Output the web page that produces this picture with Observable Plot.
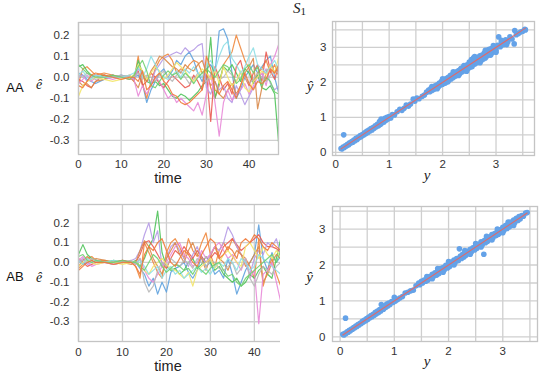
<!DOCTYPE html>
<html>
<head>
<meta charset="utf-8">
<script src="https://cdn.jsdelivr.net/npm/d3@7"></script>
<script src="https://cdn.jsdelivr.net/npm/@observablehq/plot@0.6"></script>
<style>
  body { margin: 0; background: white; }
  #wrap { position: relative; width: 554px; height: 374px; overflow: hidden; background: white; }
  .panel { position: absolute; }
  #overlay { position: absolute; left: 0; top: 0; pointer-events: none; }
</style>
</head>
<body>
<div id="wrap"></div>
<script>
// ---------- data ----------
const times = [0,1,2,3,4,6,8,10,12,13,14,15,16,17,18,19,20,21,22,23,24,25,26,27,28,29,30,31,32,33,34,35,36,37,38,39,40,41,42,43,44,45,46,47];
const seriesNames = ["blue","orange","green","red","purple","brown","pink","gray","yellow","cyan","green2","orange2"];
const seriesColors = ["#5fa2de","#f0883e","#4fc35a","#ea5a52","#b59ae6","#d98a4a","#e88ad8","#b8b8b8","#f3e56a","#8edfe6","#6fd070","#f07a3a"];

// residuals in hundredths (value / 100), one array per series
const aaResiduals = [
  [2,1,-1,-2,-3, -1,0,1,0, 0,1,-3,-12,-6,-2,2,4,0,3, 8,6,10,12,8,2,-2,4,6,2, 22,23,18,2,-10,-6,0,3,6,2, 5,8,10,0,-8],
  [-3,4,5,3,1, 2,1,0,1, -2,10,-3,-10,-2,4,8,10,11,8, 2,4,3,6,8,7,2,4,-5,-10, -4,6,9,12,20,14,8,4,-2,2, 4,8,2,6,0],
  [5,6,3,1,0, 1,0,0,0, -1,8,2,-2,-3,-2,-4,-3,-6,-9, -10,-8,-9,-11,-9,-7,-4,-2,19,-10, -2,5,3,6,2,-2,4,2,-3,1, -5,-6,-4,-8,-33],
  [-1,-2,-4,-5,-2, 1,0,0,-1, 0,3,-4,-2,2,0,-3,-5,-2,1, -1,-3,-5,-4,1,-2,-6,2,-21,5, 0,-6,-3,-8,5,8,0,-4,2,6, -2,12,3,-1,6],
  [0,1,-2,0,1, 0,1,0,0, -1,4,2,0,-3,3,6,9,10,11, 12,11,14,12,13,15,16,-5,-8,-2, -6,-4,-10,-12,-4,-8,-13,-9,-5,-2, 0,4,-3,-6,-4],
  [-2,-4,-3,-5,-2, -1,1,0,0, -2,-5,1,-2,3,6,10,9,7,5, 4,2,6,4,3,6,8,2,-4,-2, -8,-10,-6,-3,-8,-4,2,5,9,-15, -5,2,6,2,5],
  [-3,-1,1,-2,0, 0,-1,0,0, -1,-9,-4,-8,-4,0,-2,-6,-10,-8, -12,-10,-12,-14,-16,-12,-18,-8,2,-12, -28,-12,-6,-11,-8,-6,-3,-8,-4,0, 2,-4,6,10,16],
  [1,0,2,0,-1, 0,0,1,0, 0,2,-1,1,0,-2,1,3,0,-2, 1,3,0,-3,-1,2,0,-2,1,3, -1,0,3,1,-2,2,0,-3,-1,2, 0,-2,1,3,2],
  [-9,-4,-2,-1,0, -1,-2,-1,0, 1,6,3,-1,2,5,3,-1,1,4, 7,5,3,0,-2,1,4,2,-1,3, -3,5,0,-4,-2,3,-5,-7,-2,0, 3,1,6,2,10],
  [1,3,0,-1,1, 0,0,0,1, 2,5,0,4,10,6,2,0,-1,1, 3,0,4,2,5,2,0,6,8,3, 10,15,17,9,6,2,5,10,14,6, 4,2,5,8,3],
  [6,4,2,1,0, 0,1,0,-1, 1,5,8,3,-4,-5,-2,1,3,1, 2,-1,2,0,-3,0,2,4,2,0, 3,6,5,2,-3,-1,4,6,2,5, -4,0,-2,-7,-8],
  [-4,-5,-2,1,2, 1,0,-1,0, 0,-2,3,-6,-4,0,2,-2,-4,-8, -9,-12,-13,-12,-10,-8,-6,10,4,-6, -8,-4,-2,-6,-10,-4,2,-3,-6,-2, -3,-1,4,2,6]
];
const abResiduals = [
  [1,-1,0,1,0, 0,-1,0,0, 0,-3,-6,-12,-8,-16,-10,-15,-5,-3, -2,0,-5,-8,-4,3,-2,0,-6,-4, -8,2,-6,-16,-10,-4,0,4,19,2, -4,5,0,3,2],
  [-3,-1,2,3,1, 1,0,1,0, -2,-8,10,5,0,-5,-8,5,10,12, 8,2,12,6,3,10,15,4,-2,6, 10,6,12,8,4,2,-2,-8,12,-12, -4,2,-6,-12,-16],
  [4,9,4,2,1, 0,1,0,0, 1,-2,2,8,12,26,5,-2,-4,-3, -6,-4,0,2,-3,-1,3,0,-4,-2, -6,-8,-10,-8,-12,-10,-6,-8,-4,-2, -6,-8,2,12,14],
  [2,0,-2,-1,0, 0,0,1,0, 0,4,10,11,8,4,0,-3,2,6, 4,8,5,2,6,3,0,2,5,3, 8,10,12,9,6,8,10,12,14,10, 8,8,7,5,4],
  [0,2,-1,0,1, 0,0,0,1, 2,6,14,20,10,16,-2,2,8,10, 6,2,-2,4,8,2,0,4,8,6, 10,18,14,8,4,0,-6,2,6,4, 10,8,12,4,6],
  [-2,1,3,1,2, 1,0,0,-1, 0,6,11,8,2,-2,-6,2,6,10, 4,0,6,10,4,2,-4,3,8,2, 0,-4,2,6,4,-2,0,4,8,-10, -6,0,4,2,6],
  [1,3,0,-2,-1, 0,-1,0,0, -1,2,-4,-8,-10,-6,-2,0,4,8, 10,4,2,-2,0,6,2,4,8,10, 6,2,4,0,-4,2,-8,-4,-31,-6, -4,0,-10,-20,-38],
  [0,1,0,2,1, 0,0,0,1, -1,2,-10,-15,-12,-4,0,-2,2,0, -2,1,0,-3,2,0,-2,1,0,-3, -4,-2,0,-6,-3,2,-8,-12,-6,-2, -4,-6,-2,0,-3],
  [-2,0,1,0,-1, 0,0,-1,0, 0,-2,-4,-6,-2,0,2,-1,-3,-4, -6,-8,-5,-12,-4,-2,0,2,-3,0, 4,6,3,0,-2,8,10,6,2,8, 4,2,6,3,5],
  [1,-1,2,0,1, 0,1,0,0, 0,1,-2,-6,-4,-2,-8,-4,-2,-6, -4,-8,-6,-4,-2,-5,-3,-6,-2,0, -2,2,0,-4,2,0,-4,-2,4,2, 0,-2,-4,-6,-3],
  [3,4,1,0,1, 0,0,1,0, 0,-2,-4,0,4,2,-2,-5,-3,-1, -2,-4,-3,-6,-2,-4,-6,-3,-1,0, -4,-7,-6,-10,-12,-8,-6,-4,-2,0, 2,4,0,6,8],
  [-4,-2,0,1,0, 0,-1,0,0, -2,-6,4,8,6,10,12,6,0,-2, 2,6,4,0,-2,4,8,12,10,2, 4,8,6,2,10,12,10,14,12,8, 6,10,8,6,8]
];

// scatter: [y, yhat]
const aaScatter = [
  [0.10,0.11],[0.12,0.10],[0.14,0.15],[0.15,0.50],[0.16,0.14],[0.18,0.19],[0.20,0.18],[0.22,0.23],[0.24,0.21],[0.26,0.27],
  [0.28,0.26],[0.30,0.31],[0.32,0.29],[0.34,0.35],[0.36,0.33],[0.38,0.40],[0.40,0.37],[0.42,0.43],[0.44,0.42],[0.46,0.48],
  [0.48,0.45],[0.50,0.51],[0.52,0.49],[0.54,0.56],[0.56,0.53],[0.58,0.60],[0.60,0.57],[0.62,0.64],[0.64,0.61],[0.66,0.68],
  [0.68,0.64],[0.70,0.71],[0.72,0.69],[0.74,0.76],[0.76,0.73],[0.78,0.80],[0.80,0.76],[0.82,0.88],[0.84,0.80],[0.85,0.95],
  [0.86,0.84],[0.88,0.91],[0.90,0.86],[0.92,0.97],[0.94,0.92],[0.96,1.00],[0.98,0.95],
  [1.00,1.02],[1.03,0.98],[1.06,1.08],[1.10,1.07],[1.15,1.16],[1.20,1.23],[1.24,1.20],[1.28,1.26],[1.32,1.35],[1.36,1.32],
  [1.40,1.38],[1.45,1.52],[1.48,1.46],[1.52,1.55],[1.56,1.53],[1.62,1.60],[1.66,1.64],[1.70,1.72],
  [1.74,1.78],[1.76,1.73],[1.78,1.82],[1.80,1.77],[1.82,1.84],[1.84,1.80],[1.86,1.90],[1.88,1.85],[1.90,1.93],[1.92,1.87],
  [1.94,1.98],[1.96,1.92],[1.98,2.03],[2.00,1.95],[2.02,2.07],[2.04,2.00],[2.06,2.10],[2.08,2.02],[2.10,2.14],[2.12,2.07],
  [2.14,2.18],[2.16,2.10],[2.18,2.22],[2.20,2.14],[2.22,2.27],[2.24,2.18],[2.26,2.30],[2.28,2.22],[2.30,2.34],[2.32,2.25],
  [2.34,2.38],[2.36,2.30],[2.38,2.42],[2.40,2.33],[2.42,2.46],[2.44,2.37],[2.46,2.50],[2.48,2.40],[2.50,2.58],[2.52,2.44],
  [2.54,2.65],[2.56,2.50],[2.58,2.70],[2.60,2.52],[2.62,2.68],[2.64,2.56],[2.66,2.72],[2.68,2.58],[2.70,2.76],[2.72,2.62],
  [2.74,2.78],[2.76,2.66],[2.78,2.84],[2.80,2.70],[2.82,2.88],[2.84,2.76],[2.86,2.94],[2.88,2.80],[2.90,2.96],[2.92,2.84],
  [2.94,2.98],[2.96,2.88],[2.98,3.02],
  [2.05,1.98],[2.15,2.20],[2.25,2.20],[2.35,2.40],[2.45,2.36],[2.55,2.62],[2.65,2.60],[2.75,2.72],[2.85,2.86],[1.95,1.95],
  [1.85,1.86],[2.50,2.50],[2.60,2.64],[2.70,2.66],[2.80,2.78],[2.90,2.90],[3.00,3.00],
  [1.80,1.88],[1.90,1.82],[2.00,2.10],[2.10,2.02],[2.20,2.30],[2.30,2.20],[2.40,2.48],[2.45,2.32],[2.55,2.45],[2.60,2.74],
  [2.70,2.56],[2.80,2.92],[2.90,2.78],[2.95,3.05],[3.00,2.86],[3.10,3.20],[3.20,3.08],
  [3.00,2.92],[3.03,3.06],[3.05,3.30],[3.08,3.02],[3.10,3.14],[3.14,3.08],[3.18,3.22],[3.22,3.16],[3.26,3.30],[3.30,3.24],
  [3.34,3.10],[3.35,3.48],[3.38,3.36],[3.42,3.40],[3.46,3.44],[3.50,3.46],[3.54,3.52],[3.55,3.50]
];
const abScatter = [
  [0.05,0.07],[0.07,0.05],[0.09,0.10],[0.10,0.52],[0.11,0.09],[0.13,0.14],[0.15,0.13],[0.17,0.18],[0.19,0.17],[0.21,0.22],
  [0.23,0.21],[0.25,0.26],[0.27,0.25],[0.29,0.30],[0.31,0.29],[0.33,0.34],[0.35,0.33],[0.37,0.38],[0.39,0.37],[0.41,0.43],
  [0.43,0.41],[0.45,0.47],[0.47,0.45],[0.49,0.51],[0.51,0.48],[0.53,0.55],[0.55,0.53],[0.57,0.59],[0.59,0.56],[0.61,0.63],
  [0.63,0.60],[0.65,0.68],[0.67,0.64],[0.69,0.72],[0.71,0.68],[0.73,0.76],[0.75,0.72],[0.76,0.90],[0.78,0.80],[0.80,0.77],
  [0.82,0.85],[0.84,0.82],[0.86,0.91],[0.88,0.86],[0.90,0.94],[0.92,0.90],[0.95,0.98],[0.98,0.96],
  [1.00,1.10],[1.02,1.00],[1.06,1.04],[1.10,1.08],[1.15,1.12],[1.20,1.22],[1.25,1.24],[1.30,1.28],[1.35,1.30],[1.40,1.42],
  [1.45,1.50],[1.47,1.45],[1.50,1.55],[1.52,1.50],[1.55,1.58],[1.58,1.55],[1.60,1.62],[1.62,1.58],[1.65,1.68],[1.68,1.63],
  [1.70,1.74],[1.72,1.68],[1.75,1.78],[1.78,1.72],[1.80,1.84],[1.82,1.76],[1.85,1.90],[1.88,1.82],[1.90,1.93],[1.92,1.86],
  [1.95,1.99],[1.98,1.92],[2.00,2.03],[2.02,1.96],[2.05,2.08],[2.08,2.02],[2.10,2.14],[2.12,2.06],[2.15,2.18],[2.18,2.12],
  [2.20,2.45],[2.22,2.25],[2.24,2.18],[2.26,2.30],[2.28,2.22],[2.30,2.34],[2.32,2.27],[2.35,2.38],[2.38,2.32],[2.40,2.44],
  [2.42,2.36],[2.45,2.48],[2.48,2.42],[2.50,2.54],[2.52,2.46],[2.55,2.58],[2.58,2.52],[2.60,2.65],[2.62,2.56],[2.65,2.30],
  [2.66,2.68],[2.68,2.62],[2.70,2.74],[2.72,2.66],[2.75,2.78],[2.78,2.72],[2.80,2.85],[2.82,2.76],[2.85,2.88],[2.88,2.82],
  [2.90,2.94],[2.92,2.86],[2.95,2.98],[2.98,2.92],[3.00,3.05],[3.02,2.96],[3.05,3.10],[3.08,3.02],[3.10,3.16],[3.12,3.06],
  [3.15,3.20],[3.18,3.12],[3.20,3.25],[3.22,3.18],[3.25,3.30],[3.28,3.24],[3.30,3.35],[3.32,3.28],[3.35,3.38],[3.38,3.36],
  [3.42,3.45],[3.45,3.46],
  [1.60,1.60],[1.70,1.70],[1.80,1.80],[1.90,1.90],[2.00,2.00],[2.10,2.10],[2.20,2.20],[2.30,2.30],[2.40,2.40],[2.50,2.50],
  [2.60,2.60],[2.70,2.70],[2.80,2.80],[2.90,2.90],[3.00,3.00],
  [1.60,1.68],[1.70,1.62],[1.80,1.90],[1.90,1.80],[2.00,2.10],[2.10,2.00],[2.30,2.40],[2.40,2.30],[2.50,2.60],[2.60,2.50],
  [2.70,2.80],[2.80,2.70],[2.90,3.00],[3.00,2.90],[3.10,3.20],[3.20,3.10]
];

const timeTicks = [0,10,20,30,40];
const eTicks = [0.2,0.1,0.0,-0.1,-0.2,-0.3];
const yTicks = [0,1,2,3];
const yGrid = [0,0.5,1,1.5,2,2.5,3,3.5];

// ---------- drawing ----------
const wrap = document.getElementById("wrap");
const FONT = "'Liberation Sans', Arial, Helvetica, sans-serif";
const GRID = "#cfcfcf";

function place(node, left, top) {
  const d = document.createElement("div");
  d.className = "panel";
  d.style.left = left + "px";
  d.style.top = top + "px";
  d.appendChild(node);
  wrap.appendChild(d);
}

function rowsOf(residuals) {
  const rows = [];
  residuals.forEach((vals, i) => {
    vals.forEach((v, j) => rows.push({t: times[j], e: v / 100, s: seriesNames[i]}));
  });
  return rows;
}

function linePanel(residuals, opt) {
  return Plot.plot({
    width: opt.w, height: opt.h,
    marginLeft: opt.ml, marginRight: opt.mr, marginTop: opt.mt, marginBottom: opt.mb,
    style: {fontFamily: FONT, fontSize: "11.5px", color: "#333", background: "white", overflow: "visible"},
    x: {domain: opt.xd},
    y: {domain: opt.yd},
    color: {domain: seriesNames, range: seriesColors},
    marks: [
      Plot.gridX(timeTicks, {stroke: GRID, strokeOpacity: 1, strokeWidth: 1.3}),
      Plot.gridY(eTicks, {stroke: GRID, strokeOpacity: 1, strokeWidth: 1.3}),
      Plot.line(rowsOf(residuals), {x: "t", y: "e", z: "s", stroke: "s", strokeWidth: 1.2, strokeOpacity: 0.9, clip: true}),
      Plot.frame({stroke: "#c4c4c4", strokeWidth: 1.3}),
      Plot.axisX(timeTicks, {tickSize: 0, tickPadding: opt.xpad, label: null}),
      Plot.axisY(eTicks, {tickSize: 0, tickPadding: 9, label: null, tickFormat: d => d.toFixed(1)})
    ]
  });
}

function scatterPanel(pairs, opt) {
  const ext = d3.extent(pairs, d => d[0]);
  return Plot.plot({
    width: opt.w, height: opt.h,
    marginLeft: opt.ml, marginRight: opt.mr, marginTop: opt.mt, marginBottom: opt.mb,
    style: {fontFamily: FONT, fontSize: "11.5px", color: "#333", background: "white", overflow: "visible"},
    x: {domain: opt.xd},
    y: {domain: opt.yd},
    marks: [
      Plot.gridX(yGrid, {stroke: GRID, strokeOpacity: 1, strokeWidth: 1.3}),
      Plot.gridY(yGrid, {stroke: GRID, strokeOpacity: 1, strokeWidth: 1.3}),
      Plot.dot(pairs, {x: d => d[0], y: d => d[1], r: 2.8, fill: "#64a2e8", stroke: "none"}),
      Plot.line(ext, {x: d => d, y: d => d, stroke: "#e06a6a", strokeWidth: 1.1}),
      Plot.frame({stroke: "#c4c4c4", strokeWidth: 1.3}),
      Plot.axisX(yTicks, {tickSize: 0, tickPadding: opt.xpad, label: null}),
      Plot.axisY(yTicks, {tickSize: 0, tickPadding: opt.ypad, label: null})
    ]
  });
}

place(linePanel(aaResiduals, {w: 290, h: 190, ml: 78, mr: 12, mt: 22, mb: 36, xd: [0, 46.9], yd: [-0.367, 0.26], xpad: 5}), 0, 0);
place(scatterPanel(aaScatter, {w: 274, h: 190, ml: 52, mr: 20, mt: 21, mb: 35, xd: [-0.06, 3.72], yd: [-0.09, 3.74], xpad: 4, ypad: 6}), 280, 0);
place(linePanel(abResiduals, {w: 290, h: 179, ml: 78, mr: 8, mt: 9, mb: 33, xd: [0, 46.4], yd: [-0.4, 0.293], xpad: 6}), 0, 195);
place(scatterPanel(abScatter, {w: 274, h: 179, ml: 52, mr: 17, mt: 11, mb: 33, xd: [-0.14, 3.64], yd: [-0.13, 3.63], xpad: 5, ypad: 7}), 280, 195);

// ---------- labels ----------
const NS = "http://www.w3.org/2000/svg";
const ov = document.createElementNS(NS, "svg");
ov.setAttribute("id", "overlay");
ov.setAttribute("width", 554);
ov.setAttribute("height", 374);
wrap.appendChild(ov);
function label(txt, x, y, opts = {}) {
  const t = document.createElementNS(NS, "text");
  t.setAttribute("x", x);
  t.setAttribute("y", y);
  t.setAttribute("text-anchor", opts.anchor || "middle");
  t.setAttribute("dominant-baseline", "central");
  t.setAttribute("font-family", opts.serif ? "'Liberation Serif', 'DejaVu Serif', serif" : FONT);
  t.setAttribute("font-size", opts.size || 14);
  if (opts.italic) t.setAttribute("font-style", "italic");
  t.setAttribute("fill", opts.fill || "#222");
  t.textContent = txt;
  ov.appendChild(t);
  return t;
}
label("time", 168, 178, {size: 14.5});
label("time", 168, 366, {size: 14.5});
label("AA", 15, 87.5, {size: 13, fill: "#111"});
label("AB", 15, 276.5, {size: 13, fill: "#111"});
label("ê", 39, 84, {serif: true, italic: true, size: 14});
label("ê", 39, 277, {serif: true, italic: true, size: 14});
label("ŷ", 310, 86, {serif: true, italic: true, size: 15});
label("ŷ", 309.5, 277, {serif: true, italic: true, size: 15});
label("y", 427, 175, {serif: true, italic: true, size: 15});
label("y", 427, 361, {serif: true, italic: true, size: 15});
// title S_1
const s1 = label("", 293, 8, {serif: true, size: 15, anchor: "start"});
const sS = document.createElementNS(NS, "tspan");
sS.setAttribute("font-style", "italic");
sS.textContent = "S";
const s1n = document.createElementNS(NS, "tspan");
s1n.setAttribute("font-size", 11);
s1n.setAttribute("dy", 3);
s1n.textContent = "1";
s1.appendChild(sS);
s1.appendChild(s1n);
</script>
</body>
</html>
